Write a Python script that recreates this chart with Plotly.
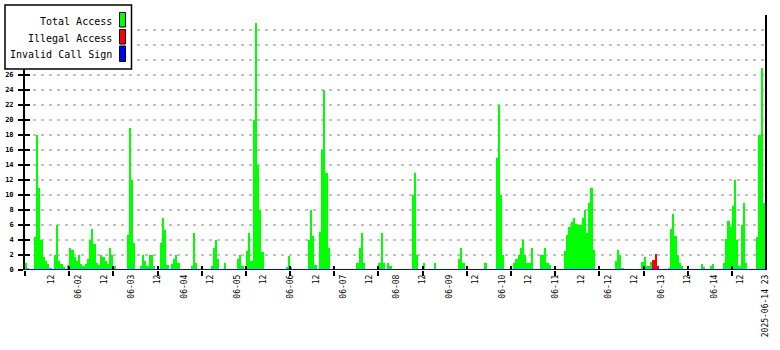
import plotly.graph_objects as go

# ---------------- data (hourly values, 2025-06-01 00h .. 2025-06-14 23h) ----------------
day_labels = ["06-01", "06-02", "06-03", "06-04", "06-05", "06-06", "06-07",
              "06-08", "06-09", "06-10", "06-11", "06-12", "06-13", "06-14"]
last_label = "2025-06-14 23"

total_0601 = [1, 0.3, 0, 0, 4.4, 18, 11, 4, 1.7, 1.2, 0.8, 0.3, 0, 2, 6, 1.2, 0.8, 0.4, 0, 0.7, 2.9, 2.7, 1.8, 1.2]
total_0602 = [2, 0.8, 0.5, 0.8, 1.5, 4, 5.5, 3.5, 1, 0.7, 2, 1.8, 1.2, 0.8, 2.9, 2, 0.5, 0, 0, 0, 0, 0, 4.7, 19]
total_0603 = [12, 3.6, 0, 0, 0.5, 2, 1.2, 0.5, 2, 2, 0.5, 0, 0, 3.6, 6.9, 5.3, 0.7, 0, 0.8, 1.5, 2, 1, 0, 0]
total_0604 = [0, 0, 0, 0.5, 5, 1, 0, 0, 0, 0, 0, 0, 0.5, 3, 4, 1.5, 0, 0, 1, 0, 0, 0, 0, 0]
total_0605 = [1.5, 2, 0.5, 0, 2.5, 4.9, 1.2, 20, 33, 14, 8, 2.4, 0, 0, 0, 0, 0, 0, 0, 0, 0, 0, 0.4, 1.9]
total_0606 = [0.4, 0, 0, 0, 0, 0, 0, 0, 4, 8, 4.5, 0.7, 0, 5.1, 16, 24, 13, 3, 0, 0, 0, 0, 0, 0]
total_0607 = [0, 0, 0, 0, 0, 0, 1, 3, 5, 1, 0, 0, 0, 0, 0, 0, 1, 5, 1, 0, 1, 0.5, 0, 0]
total_0608 = [0, 0, 0, 0, 0, 0, 0, 10, 13, 2, 0, 0, 1, 0, 0, 0, 0, 1, 0, 0, 0, 0, 0, 0]
total_0609 = [0, 0, 0, 0, 1.5, 3, 1, 0, 0, 0, 0, 0, 0, 0, 0, 0, 1, 0, 0, 0, 0, 15, 22, 10]
total_0610 = [2, 0, 0, 0, 0, 1, 1.5, 2, 3, 4, 2, 1, 1, 3, 0, 0, 0, 2, 2, 3, 1, 0.7, 0, 0]
total_0611 = [0, 0, 0, 0, 2.5, 4.7, 5.8, 6.4, 6.9, 6.1, 6, 6, 7, 8, 5, 9, 10.9, 2.7, 0, 0, 0, 0, 0, 0]
total_0612 = [0, 0, 0, 1.2, 2.7, 2, 0.3, 0, 0, 0, 0, 0, 0, 0, 0, 1.1, 1.7, 0.5, 0.6, 1.1, 1.3, 2.1, 0.6, 0]
total_0613 = [0, 0, 0, 0.3, 5.5, 7.5, 4.5, 2, 0.9, 0.5, 0, 0, 0, 0, 0, 0, 0, 0, 0.8, 0.4, 0, 0, 0.6, 0.8]
total_0614 = [0, 0, 0, 0, 1, 4.2, 6.5, 5.8, 8.5, 12, 4, 0.5, 6, 8.9, 1, 0, 0, 0, 0, 4.4, 18, 27, 9, 0]

illegal_0612 = [0] * 20 + [1.3, 2.1, 0.6, 0]
invalid_value = 0  # no invalid call signs in the period

series_names = ["Total Access", "Illegal Access", "Invalid Call Sign"]
series_colors = ["#00ff00", "#ff0000", "#0000ff"]

y_ticks = list(range(0, 35, 2))
y_label_max = 26  # labels above this are hidden behind the legend box

# ---------------- assemble ----------------
total_days = [total_0601, total_0602, total_0603, total_0604, total_0605, total_0606, total_0607,
              total_0608, total_0609, total_0610, total_0611, total_0612, total_0613, total_0614]
total = [v for d in total_days for v in d]
n = len(total)
illegal = [0] * (24 * 11) + illegal_0612 + [0] * (24 * 2)
invalid = [invalid_value] * n
hours = list(range(n))
centers = [h + 0.5 for h in hours]
x_end = n - 1

label_hours = list(range(12, x_end, 12)) + [x_end]
label_text = [("12" if h % 24 == 12 else day_labels[h // 24]) for h in range(12, x_end, 12)] + [last_label]
tick_hours = list(range(0, x_end, 20))
y_text = [str(v) if v <= y_label_max else "" for v in y_ticks]

# ---------------- figure ----------------
W, H = 780, 350
ML, MR, MT, MB = 25, 15, 15, 80
PW, PH = W - ML - MR, H - MT - MB


def px(xp):
    return (xp - ML) / PW


def py(yp):
    return (H - MB - yp) / PH


fig = go.Figure()
fig.add_trace(go.Bar(x=centers, y=total, width=1, name=series_names[0],
                     marker=dict(color=series_colors[0], line=dict(width=0))))
fig.add_trace(go.Bar(x=centers, y=illegal, width=1, name=series_names[1],
                     marker=dict(color=series_colors[1], line=dict(width=0))))
fig.add_trace(go.Scatter(x=hours, y=invalid, mode="lines", name=series_names[2],
                         line=dict(color=series_colors[2], width=2), cliponaxis=False))
# helper trace carrying the overlay axes (inner half of the tick marks)
fig.add_trace(go.Scatter(x=[0, x_end], y=[0, 34], xaxis="x2", yaxis="y2", mode="markers",
                         marker=dict(opacity=0), hoverinfo="skip", showlegend=False))

mono = "DejaVu Sans Mono"
fig.update_layout(
    width=W, height=H,
    margin=dict(l=ML, r=MR, t=MT, b=MB, autoexpand=False),
    paper_bgcolor="white", plot_bgcolor="white",
    barmode="overlay", bargap=0, showlegend=False, hovermode=False,
    xaxis=dict(range=[0, x_end], tickmode="array", tickvals=label_hours, ticktext=label_text,
               tickangle=-90, ticks="", showgrid=False, zeroline=False, showline=False,
               ticklabelstandoff=2, automargin=False,
               tickfont=dict(family=mono, size=8, color="black"),
               minor=dict(tickmode="array", tickvals=tick_hours, ticks="outside", ticklen=5,
                          tickwidth=2, tickcolor="black", showgrid=False)),
    xaxis2=dict(overlaying="x", anchor="y", range=[0, x_end], tickmode="array", tickvals=tick_hours,
                ticks="inside", ticklen=4, tickwidth=2, tickcolor="black", showticklabels=False,
                showgrid=False, zeroline=False, showline=False, automargin=False),
    yaxis=dict(range=[0, 34], tickmode="array", tickvals=y_ticks, ticktext=y_text, ticks="outside",
               ticklen=5, tickwidth=1.5, tickcolor="black", showline=True, linecolor="black",
               linewidth=2, mirror=True, showgrid=True, gridcolor="#c0c0c0", gridwidth=1.5,
               griddash="3px,5px", zeroline=False, ticklabelstandoff=3, automargin=False,
               tickfont=dict(family=mono, size=7, color="black", weight="bold")),
    yaxis2=dict(overlaying="y", anchor="x", range=[0, 34], tickmode="array", tickvals=y_ticks,
                ticks="inside", ticklen=5, tickwidth=1.5, tickcolor="black", showticklabels=False,
                showgrid=False, zeroline=False, showline=False, automargin=False),
)

# legend box (text right-aligned, swatch on the right)
shapes = [dict(type="rect", xref="paper", yref="paper", x0=px(5), x1=px(131.5), y0=py(5), y1=py(69),
               fillcolor="white", line=dict(color="black", width=1.5), layer="above")]
sw_rows = [(12.5, 27), (29.5, 44), (46, 61.5)]
text_rows = [21, 38, 54.5]
annotations = []
for name, color, (t0, t1), ty in zip(series_names, series_colors, sw_rows, text_rows):
    shapes.append(dict(type="rect", xref="paper", yref="paper", x0=px(119.5), x1=px(125.5),
                       y0=py(t0), y1=py(t1), fillcolor=color, line=dict(color="black", width=1),
                       layer="above"))
    annotations.append(dict(text=name, xref="paper", yref="paper", x=px(114), y=py(ty),
                            xanchor="right", yanchor="middle", showarrow=False,
                            font=dict(family=mono, size=10, color="black")))
fig.update_layout(shapes=shapes, annotations=annotations)

fig.write_html("out.html", config={"displayModeBar": False})
